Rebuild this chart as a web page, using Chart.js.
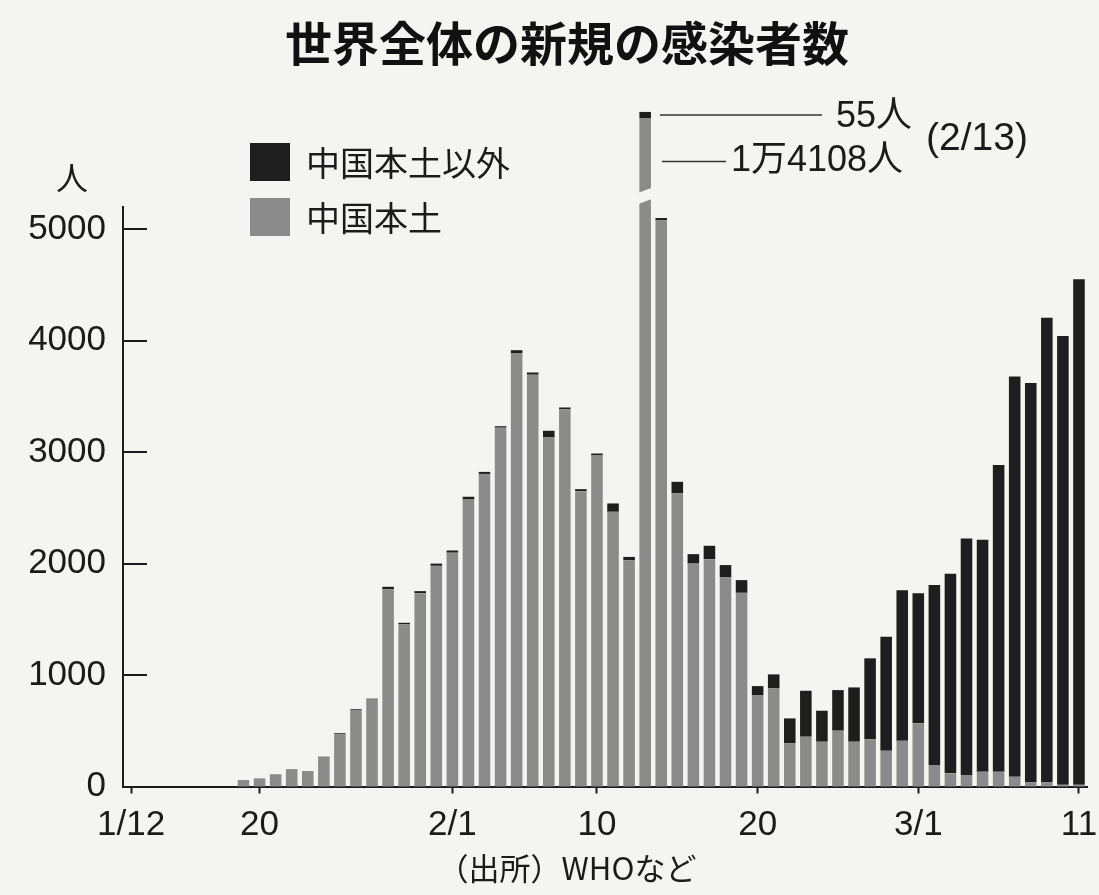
<!DOCTYPE html>
<html lang="ja">
<head>
<meta charset="utf-8">
<title>世界全体の新規の感染者数</title>
<script src="https://cdn.jsdelivr.net/npm/chart.js@4/dist/chart.umd.min.js"></script>
<style>
  html, body { margin: 0; padding: 0; background: #f4f4f1; }
  #wrap { width: 1099px; height: 895px; position: relative; }
</style>
</head>
<body>
<div id="wrap"><canvas id="newCases"></canvas></div>
<script>
// daily categories, 1/12 .. 3/11
const days = [
  '1/12','1/13','1/14','1/15','1/16','1/17','1/18','1/19','1/20','1/21',
  '1/22','1/23','1/24','1/25','1/26','1/27','1/28','1/29','1/30','1/31',
  '2/1','2/2','2/3','2/4','2/5','2/6','2/7','2/8','2/9','2/10',
  '2/11','2/12','2/13','2/14','2/15','2/16','2/17','2/18','2/19','2/20',
  '2/21','2/22','2/23','2/24','2/25','2/26','2/27','2/28','2/29','3/1',
  '3/2','3/3','3/4','3/5','3/6','3/7','3/8','3/9','3/10','3/11'
];

// mainland China, new cases per day
const mainland = [
  null, null, null, null, null, null, null, 58, 73, 106,
  150, 135, 260, 470, 688, 780, 1770, 1455, 1735, 1980,
  2098, 2575, 2805, 3220, 3890, 3695, 3132, 3385, 2650, 2970,
  2465, 2030, 14108, 5081, 2630, 2000, 2040, 1877, 1738, 821,
  880, 387, 447, 402, 501, 402, 423, 321, 410, 567,
  193, 118, 103, 133, 133, 88, 40, 40, 15, 15
];

// everywhere else
const outside = [
  null, null, null, null, null, null, null, 0, 0, 3,
  4, 4, 7, 8, 7, 8, 22, 14, 18, 20,
  20, 25, 18, 13, 25, 20, 60, 16, 18, 18,
  75, 30, 55, 20, 104, 85, 120, 110, 114, 80,
  126, 224, 412, 278, 364, 487, 727, 1023, 1352, 1166,
  1614, 1792, 2122, 2082, 2752, 3590, 3580, 4166, 4027, 4537
];

// printed date labels under the x axis
const dateTicks = { '1/12': '1/12', '1/20': '20', '2/1': '2/1', '2/10': '10', '2/20': '20', '3/1': '3/1', '3/11': '11' };
const valueTicks = [0, 1000, 2000, 3000, 4000, 5000];

// the y axis is cut between these values so the 2/13 spike fits
const breakLow = 5250;
const breakHigh = 13460;
const breakGap = 100;

const paper = '#f4f4f1';
const ink = '#1b1b1b';
const darkBar = '#1e1e1e';
const greyBar = '#8b8b8b';
const numFont = "'Liberation Sans', 'Noto Sans CJK JP', sans-serif";
const jpFont = "'Noto Sans CJK JP', sans-serif";

class BrokenLinearScale extends Chart.LinearScale {
  squeeze(v) {
    if (v === null || v <= breakLow) return v;
    if (v >= breakHigh) return v - (breakHigh - breakLow) + breakGap;
    return breakLow + (v - breakLow) / (breakHigh - breakLow) * breakGap;
  }
  getPixelForValue(v) {
    return super.getPixelForValue(this.squeeze(v));
  }
}
BrokenLinearScale.id = 'brokenLinear';
BrokenLinearScale.defaults = Chart.LinearScale.defaults;
Chart.register(BrokenLinearScale);

const spikeIndex = mainland.indexOf(Math.max(...mainland.filter(v => v !== null)));

function formatJp(n) {
  return n >= 10000 ? Math.floor(n / 10000) + '万' + (n % 10000) : String(n);
}

const paperPlugin = {
  id: 'paper',
  beforeDraw(chart) {
    const ctx = chart.ctx;
    ctx.save();
    ctx.fillStyle = paper;
    ctx.fillRect(0, 0, chart.width, chart.height);
    ctx.restore();
  }
};

// short ticks pointing into the plot, plus the cut in the spike bar
const axisExtras = {
  id: 'axisExtras',
  afterDatasetsDraw(chart) {
    const { ctx, chartArea, scales: { y } } = chart;
    ctx.save();
    ctx.strokeStyle = ink;
    ctx.lineWidth = 2;
    y.ticks.forEach(t => {
      if (t.value === 0) return;
      const py = Math.round(y.getPixelForValue(t.value));
      ctx.beginPath();
      ctx.moveTo(chartArea.left, py);
      ctx.lineTo(chartArea.left + 24, py);
      ctx.stroke();
    });

    const bar = chart.getDatasetMeta(0).data[spikeIndex];
    const left = bar.x - bar.width / 2 - 1;
    const right = bar.x + bar.width / 2 + 1;
    const yLo = y.getPixelForValue(breakLow);
    const yHi = y.getPixelForValue(breakHigh);
    const slant = 2.5;
    ctx.fillStyle = paper;
    ctx.beginPath();
    ctx.moveTo(left, yHi + slant);
    ctx.lineTo(right, yHi - slant);
    ctx.lineTo(right, yLo - slant);
    ctx.lineTo(left, yLo + slant);
    ctx.closePath();
    ctx.fill();
    ctx.restore();
  }
};

// title, legend, unit, spike callouts and source line
const labelsPlugin = {
  id: 'labels',
  afterDraw(chart) {
    const { ctx, scales: { y } } = chart;
    ctx.save();
    ctx.textBaseline = 'middle';

    ctx.fillStyle = '#111';
    ctx.font = 'bold 47px ' + jpFont;
    ctx.textAlign = 'center';
    ctx.fillText('世界全体の新規の感染者数', 567, 43);

    // legend (top series first)
    const items = [chart.data.datasets[1], chart.data.datasets[0]];
    items.forEach((ds, i) => {
      const top = 143 + i * 55;
      ctx.fillStyle = ds.backgroundColor;
      ctx.fillRect(250, top, 40, 38);
      ctx.fillStyle = ink;
      ctx.font = '34px ' + jpFont;
      ctx.textAlign = 'left';
      ctx.fillText(ds.label, 306, top + 20);
    });

    // unit above the y axis
    ctx.font = '32px ' + jpFont;
    ctx.textAlign = 'center';
    ctx.fillText('人', 72, 178);

    // callouts on the spike bar
    const bar = chart.getDatasetMeta(1).data[spikeIndex];
    const barRight = bar.x + bar.width / 2;
    const cnTotal = mainland[spikeIndex];
    const outTotal = outside[spikeIndex];
    const yOut = y.getPixelForValue(cnTotal + outTotal / 2);
    const yCnTop = y.getPixelForValue(cnTotal);
    const yCnCut = y.getPixelForValue(breakHigh);
    const yCn = yCnTop + (yCnCut - yCnTop) * 0.6;

    ctx.strokeStyle = '#333';
    ctx.lineWidth = 1.5;
    ctx.beginPath();
    ctx.moveTo(barRight + 9, yOut);
    ctx.lineTo(822, yOut);
    ctx.moveTo(barRight + 11, yCn);
    ctx.lineTo(726, yCn);
    ctx.stroke();

    ctx.font = '36px ' + numFont;
    ctx.textAlign = 'left';
    ctx.fillText(formatJp(outTotal) + '人', 836, yOut + 2);
    ctx.fillText(formatJp(cnTotal) + '人', 731, yCn);
    ctx.font = '39px ' + numFont;
    ctx.fillText('(' + days[spikeIndex] + ')', 926, 139);

    // source
    ctx.font = '31px ' + jpFont;
    ctx.textAlign = 'center';
    ctx.fillText('（出所）WHOなど', 567, 868);
    ctx.restore();
  }
};

const ctx = document.getElementById('newCases').getContext('2d');
const chart = new Chart(ctx, {
  type: 'bar',
  data: {
    labels: days,
    datasets: [
      {
        label: '中国本土',
        data: mainland,
        backgroundColor: greyBar,
        clip: false
      },
      {
        label: '中国本土以外',
        data: outside,
        backgroundColor: darkBar,
        clip: false
      }
    ]
  },
  options: {
    responsive: true,
    maintainAspectRatio: false,
    animation: false,
    barPercentage: 0.72,
    categoryPercentage: 1,
    layout: { padding: { left: 0, right: 12, top: 207, bottom: 0 } },
    plugins: {
      legend: { display: false },
      tooltip: { enabled: false },
      title: { display: false }
    },
    scales: {
      x: {
        stacked: true,
        offset: true,
        border: { display: true, color: ink, width: 2 },
        grid: {
          display: true,
          offset: false,
          drawOnChartArea: false,
          drawTicks: true,
          tickLength: 7,
          tickWidth: 2,
          tickColor: c => (c.tick && dateTicks[days[c.index]]) ? ink : 'rgba(0,0,0,0)'
        },
        ticks: {
          autoSkip: false,
          maxRotation: 0,
          padding: 11,
          color: ink,
          font: { family: numFont, size: 35 },
          callback: (v, i) => dateTicks[days[i]] || ''
        },
        afterFit: s => {
          s.height = 108.5;
          s.paddingLeft = 0;
          s.paddingRight = 0;
        }
      },
      y: {
        type: 'brokenLinear',
        stacked: true,
        min: 0,
        max: 5200,
        border: { display: true, color: ink, width: 2 },
        grid: { display: false, drawTicks: false },
        ticks: {
          stepSize: 1000,
          includeBounds: false,
          padding: 17,
          color: ink,
          font: { family: numFont, size: 35 },
          callback: v => String(v)
        },
        afterBuildTicks: s => { s.ticks = valueTicks.map(v => ({ value: v })); },
        afterFit: s => { s.width = 123; }
      }
    }
  },
  plugins: [paperPlugin, axisExtras, labelsPlugin]
});
</script>
</body>
</html>
